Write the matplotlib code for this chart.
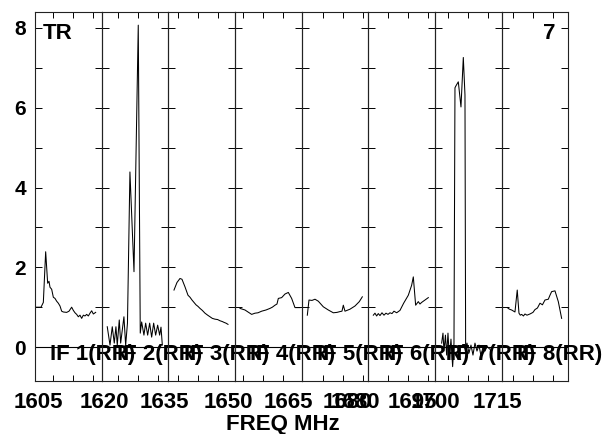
import numpy as np
import matplotlib.pyplot as plt
from matplotlib.ticker import FixedLocator

plt.rcParams['font.family'] = ['Liberation Sans', 'DejaVu Sans']
plt.rcParams['font.weight'] = 'bold'

# channel position inside each IF band (0..1) and amplitude
chan_if1 = [0, 0.09, 0.125, 0.16, 0.19, 0.21, 0.225, 0.25, 0.275, 0.30, 0.325, 0.35, 0.375,
            0.40, 0.425, 0.475, 0.51, 0.55, 0.575, 0.60, 0.625, 0.65, 0.675, 0.70, 0.725,
            0.75, 0.775, 0.80, 0.825, 0.85, 0.875, 0.91]
amp_if1 = [1.0, 1.0, 1.12, 2.39, 1.6, 1.65, 1.5, 1.45, 1.25, 1.22, 1.15, 1.1, 1.03,
           0.9, 0.88, 0.87, 0.9, 1.0, 0.92, 0.86, 0.82, 0.76, 0.8, 0.72, 0.8,
           0.78, 0.82, 0.78, 0.85, 0.91, 0.83, 0.87]

chan_if2 = [0.084, 0.125, 0.159, 0.189, 0.214, 0.234, 0.264, 0.285, 0.334, 0.36, 0.387,
            0.424, 0.485, 0.549, 0.579, 0.60, 0.634, 0.66, 0.69, 0.72, 0.75, 0.78, 0.81,
            0.84, 0.87, 0.89, 0.91]
amp_if2 = [0.51, 0.05, 0.51, 0.1, 0.51, 0.05, 0.68, 0.1, 0.76, 0.05, 0.6,
           4.39, 1.89, 8.07, 0.35, 0.63, 0.3, 0.6, 0.3, 0.6, 0.25, 0.6, 0.3,
           0.55, 0.3, 0.5, 0.05]

chan_if3 = [0.085, 0.13, 0.175, 0.205, 0.25, 0.295, 0.325, 0.355, 0.385, 0.415, 0.445,
            0.475, 0.51, 0.55, 0.59, 0.625, 0.66, 0.70, 0.74, 0.775, 0.81, 0.835, 0.865, 0.895]
amp_if3 = [1.43, 1.62, 1.72, 1.70, 1.51, 1.30, 1.25, 1.18, 1.12, 1.06, 1.02,
           0.97, 0.92, 0.85, 0.80, 0.76, 0.72, 0.70, 0.69, 0.66, 0.64, 0.62, 0.6, 0.57]

chan_if4 = [0.075, 0.15, 0.195, 0.25, 0.30, 0.345, 0.40, 0.465, 0.525, 0.56, 0.60,
            0.63, 0.65, 0.70, 0.75, 0.80, 0.85, 0.90, 0.975]
amp_if4 = [0.97, 0.93, 0.88, 0.82, 0.85, 0.86, 0.9, 0.93, 0.97, 1.0, 1.05,
           1.08, 1.22, 1.24, 1.33, 1.37, 1.22, 0.99, 0.99]

chan_if5 = [0.085, 0.11, 0.155, 0.20, 0.25, 0.325, 0.40, 0.475, 0.53, 0.575, 0.605,
            0.625, 0.65, 0.725, 0.80, 0.865, 0.91]
amp_if5 = [0.8, 1.18, 1.17, 1.2, 1.15, 1.01, 0.93, 0.86, 0.87, 0.89, 0.9,
           1.05, 0.9, 0.95, 1.03, 1.14, 1.26]

chan_if6 = [0.075, 0.10, 0.125, 0.15, 0.175, 0.205, 0.235, 0.265, 0.295, 0.325, 0.355,
            0.385, 0.425, 0.475, 0.53, 0.60, 0.65, 0.675, 0.71, 0.75, 0.775, 0.80,
            0.85, 0.90]
amp_if6 = [0.8, 0.85, 0.78, 0.84, 0.79, 0.86, 0.8, 0.85, 0.82, 0.86, 0.84,
           0.9, 0.86, 0.92, 1.1, 1.3, 1.55, 1.76, 1.05, 1.14, 1.08, 1.12,
           1.18, 1.24]

chan_if7 = [0.10, 0.12, 0.135, 0.157, 0.175, 0.195, 0.217, 0.24, 0.265, 0.285, 0.30,
            0.315, 0.35, 0.39, 0.425, 0.45, 0.46, 0.48, 0.51, 0.54, 0.57, 0.60,
            0.63, 0.66, 0.69, 0.72, 0.75, 0.78, 0.82]
amp_if7 = [0.1, 0.35, -0.1, 0.3, -0.2, 0.35, -0.3, 0.2, -0.49, 0.1, 6.5,
           6.55, 6.65, 6.02, 7.26, 6.32, -0.08, 0.1, -0.15, 0.05, -0.2, 0.1,
           -0.1, 0.05, -0.22, 0.0, -0.1, 0.02, -0.05]

chan_if8 = [0.085, 0.117, 0.15, 0.20, 0.234, 0.26, 0.28, 0.30, 0.327, 0.35, 0.38,
            0.425, 0.47, 0.50, 0.537, 0.575, 0.612, 0.65, 0.70, 0.725, 0.75, 0.80,
            0.85, 0.90]
amp_if8 = [0.99, 0.95, 0.93, 0.88, 1.43, 0.85, 0.8, 0.82, 0.78, 0.83, 0.8,
           0.83, 0.87, 0.94, 0.98, 1.1, 1.06, 1.18, 1.2, 1.3, 1.39, 1.41,
           1.14, 0.72]

chans = [chan_if1, chan_if2, chan_if3, chan_if4, chan_if5, chan_if6, chan_if7, chan_if8]
amps = [amp_if1, amp_if2, amp_if3, amp_if4, amp_if5, amp_if6, amp_if7, amp_if8]

if_names = ['IF 1(RR)', 'IF 2(RR)', 'IF 3(RR)', 'IF 4(RR)',
            'IF 5(RR)', 'IF 6(RR)', 'IF 7(RR)', 'IF 8(RR)']

# first minor x tick of each panel, ticks every 0.3 of the band
tick_first = [0.275, 0.25, 0.15, 0.12, 0.325, 0.30, 0.20, 0.17]

freq_labels = ['1605', '1620', '1635', '1650', '1665', '1680', '1680', '1695', '1700', '1715']
freq_panel = [0, 1, 1, 2, 3, 4, 4, 5, 6, 6]
freq_pos = [0.0525, 0.035, 0.935, 0.895, 0.795, 0.68, 0.807, 0.655, 0.0075, 0.94]

fig, axes = plt.subplots(1, 8, sharey=True, figsize=(6.12, 4.34), dpi=100)
fig.subplots_adjust(left=35/612, right=568.3/612, bottom=1-381/434, top=1-12/434, wspace=0)

for i, ax in enumerate(axes):
    ax.set_facecolor('none')
    ax.plot(chans[i], amps[i], color='black', lw=0.75)
    ax.axhline(0, color='black', lw=0.8)
    ax.set_xlim(0, 1)
    ax.set_ylim(-0.85, 8.4)
    ax.yaxis.set_major_locator(FixedLocator([0, 2, 4, 6, 8]))
    ax.yaxis.set_minor_locator(FixedLocator([1, 3, 5, 7]))
    ax.xaxis.set_major_locator(FixedLocator(np.arange(tick_first[i], 1, 0.3)))
    ax.tick_params(axis='y', which='both', direction='in', length=4.8, width=0.7,
                   left=True, right=True, labelleft=(i == 0), labelsize=15, pad=6.5)
    ax.tick_params(axis='x', which='both', direction='in', length=4.0, width=0.7,
                   top=True, bottom=True, labelbottom=False)
    for s in ax.spines.values():
        s.set_linewidth(0.8)
        s.set_color('#222222')
    ax.text(0.23, -0.33, if_names[i], fontsize=16, fontweight='bold',
            ha='left', va='baseline', clip_on=False, zorder=5)

for lab, p, pos in zip(freq_labels, freq_panel, freq_pos):
    ax = axes[p]
    ax.text(pos, -27/369, lab, transform=ax.get_xaxis_transform(), fontsize=16,
            fontweight='bold', ha='center', va='baseline', clip_on=False)

fig.text(283/612, 1-430/434, 'FREQ MHz', fontsize=16, fontweight='bold',
         ha='center', va='baseline')
fig.text(43/612, 1-39/434, 'TR', fontsize=16, fontweight='bold', ha='left', va='baseline')
fig.text(555/612, 1-39/434, '7', fontsize=16, fontweight='bold', ha='right', va='baseline')

fig.savefig('out.png', dpi=100)
